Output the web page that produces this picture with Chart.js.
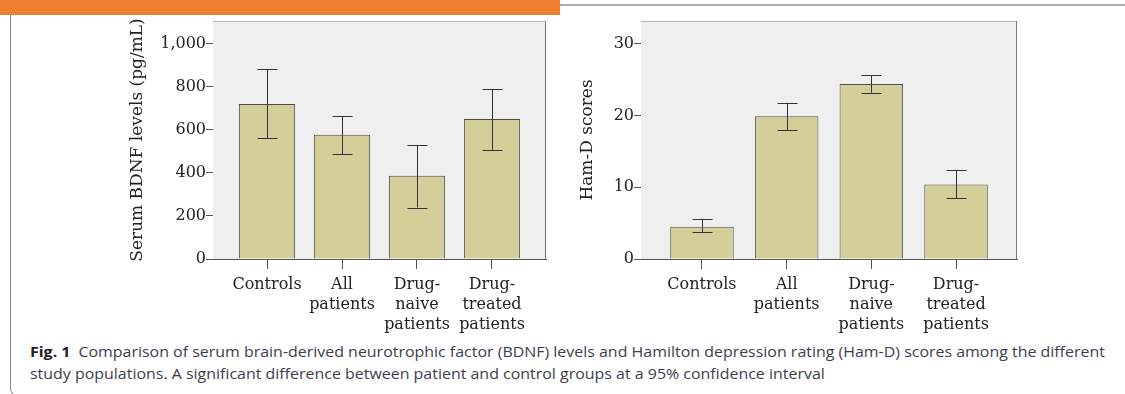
<!DOCTYPE html>
<html><head><meta charset="utf-8">
<script src="https://cdn.jsdelivr.net/npm/chart.js@4.4.0/dist/chart.umd.min.js"></script>
<style>
html,body{margin:0;padding:0;background:#fff;width:1125px;height:394px;overflow:hidden;position:relative;}
#hdr{position:absolute;left:0;top:0;width:560px;height:15px;background:#ee7f31;}
#rule{position:absolute;left:560px;top:4px;width:565px;height:2px;background:#ababab;}
#frame{position:absolute;left:10px;top:15px;width:1200px;height:382px;border-left:1px solid #8a8a8a;border-bottom:1px solid #8a8a8a;border-bottom-left-radius:10px;}
canvas{position:absolute;}
#c1{left:110px;top:17px;}
#c2{left:565px;top:17px;}
.cap{position:absolute;left:30px;white-space:nowrap;font-family:'Open Sans',sans-serif;font-size:14px;line-height:20px;color:#3d3d4d;transform-origin:0 0;}
.cap b{color:#1e1e1e;margin-right:7px;}
</style></head><body>
<div id="hdr"></div><div id="rule"></div><div id="frame"></div>
<canvas id="c1" width="440" height="322"></canvas>
<canvas id="c2" width="456" height="322"></canvas>
<div class="cap" id="l1" style="top:342px"><b>Fig. 1</b>Comparison of serum brain-derived neurotrophic factor (BDNF) levels and Hamilton depression rating (Ham-D) scores among the different</div>
<div class="cap" id="l2" style="top:364px">study populations. A significant difference between patient and control groups at a 95% confidence interval</div>
<script>
// ---- data ----
const categories = [['Controls'], ['All', 'patients'], ['Drug-', 'naive', 'patients'], ['Drug-', 'treated', 'patients']];
const categoryPositions = [0, 1, 2, 3];

const bdnfMeans = [720, 577, 386, 650];
const bdnfLow   = [561, 487, 239, 507];
const bdnfHigh  = [882, 664, 530, 789];
const bdnfTicks = [0, 200, 400, 600, 800, 1000];

const hamMeans = [4.5, 19.9, 24.4, 10.4];
const hamLow   = [3.7, 18.0, 23.2, 8.5];
const hamHigh  = [5.55, 21.8, 25.6, 12.4];
const hamTicks = [0, 10, 20, 30];

const bdnfTitle = 'Serum BDNF levels (pg/mL)';
const hamTitle = 'Ham-D scores';

// ---- drawing ----
const serif = 'DejaVu Serif';
const axisColor = '#555555';

const plotBox = {
  id: 'plotBox',
  beforeDatasetsDraw(chart) {
    const a = chart.chartArea, ctx = chart.ctx;
    ctx.save();
    ctx.fillStyle = '#efefef';
    ctx.fillRect(a.left, a.top, a.right - a.left, a.bottom - a.top);
    ctx.restore();
  },
  afterDraw(chart) {
    const a = chart.chartArea, ctx = chart.ctx;
    ctx.save();
    ctx.lineWidth = 1;
    ctx.strokeStyle = '#b4b4b4';
    ctx.beginPath(); ctx.moveTo(a.left, a.top + 0.5); ctx.lineTo(a.right, a.top + 0.5); ctx.stroke();
    ctx.strokeStyle = '#7a7a7a';
    ctx.beginPath(); ctx.moveTo(a.right - 0.5, a.top); ctx.lineTo(a.right - 0.5, a.bottom); ctx.stroke();
    ctx.restore();
  }
};

const errorBars = {
  id: 'errorBars',
  afterDatasetsDraw(chart, args, opts) {
    const ctx = chart.ctx, xs = chart.scales.x, ys = chart.scales.y;
    ctx.save();
    ctx.strokeStyle = '#333333';
    ctx.lineWidth = 1;
    opts.low.forEach((lo, i) => {
      const x = Math.round(xs.getPixelForValue(categoryPositions[i])) + 0.5;
      const y1 = ys.getPixelForValue(lo), y2 = ys.getPixelForValue(opts.high[i]);
      ctx.beginPath();
      ctx.moveTo(x, y1); ctx.lineTo(x, y2);
      ctx.moveTo(x - 10, Math.round(y1) + 0.5); ctx.lineTo(x + 10, Math.round(y1) + 0.5);
      ctx.moveTo(x - 10, Math.round(y2) + 0.5); ctx.lineTo(x + 10, Math.round(y2) + 0.5);
      ctx.stroke();
    });
    ctx.restore();
  }
};

function makeChart(id, means, low, high, yMax, yTicks, title, yWidth, padLeft) {
  return new Chart(document.getElementById(id), {
    type: 'bar',
    data: {
      datasets: [{
        data: means.map((v, i) => ({ x: categoryPositions[i], y: v })),
        backgroundColor: '#d4cf98',
        borderColor: '#4d4d4d',
        borderWidth: 1,
        barPercentage: 0.75,
        categoryPercentage: 1
      }]
    },
    options: {
      responsive: false,
      animation: false,
      devicePixelRatio: 1,
      layout: { padding: { left: padLeft, right: 4, top: 4, bottom: 0 } },
      plugins: { legend: { display: false }, tooltip: { enabled: false }, errorBars: { low: low, high: high } },
      scales: {
        x: {
          type: 'linear',
          offset: false,
          min: -0.72, max: 3.72,
          afterBuildTicks: s => { s.ticks = categoryPositions.map(v => ({ value: v })); },
          afterFit: s => { s.height = 80; s.paddingLeft = 0; s.paddingRight = 0; },
          grid: { offset: false, drawOnChartArea: false, drawTicks: true, tickLength: 10, color: axisColor },
          border: { color: axisColor, width: 1 },
          ticks: {
            autoSkip: false, maxRotation: 0, minRotation: 0, padding: 6,
            color: '#222222',
            font: { family: serif, size: 16, lineHeight: 1.25 },
            callback: v => categories[categoryPositions.indexOf(v)]
          }
        },
        y: {
          min: 0, max: yMax,
          afterBuildTicks: s => { s.ticks = yTicks.map(v => ({ value: v })); },
          afterFit: s => { s.width = yWidth; s.paddingTop = 0; s.paddingBottom = 0; },
          grid: { drawOnChartArea: false, drawTicks: true, tickLength: 7, color: axisColor },
          border: { color: axisColor, width: 1 },
          ticks: {
            padding: 0, color: '#222222',
            font: { family: serif, size: 16 },
            callback: v => v.toLocaleString('en-US')
          },
          title: {
            display: true, text: title, color: '#222222',
            padding: { top: 0, bottom: 0 },
            font: { family: serif, size: 17, lineHeight: 1.2 }
          }
        }
      }
    },
    plugins: [plotBox, errorBars]
  });
}

makeChart('c1', bdnfMeans, bdnfLow, bdnfHigh, 1105, bdnfTicks, bdnfTitle, 86, 17);
makeChart('c2', hamMeans, hamLow, hamHigh, 33.2, hamTicks, hamTitle, 64, 12);

// fit caption width
(function () {
  const l1 = document.getElementById('l1'), l2 = document.getElementById('l2');
  const w = l1.getBoundingClientRect().width;
  const s = 1075 / w;
  l1.style.transform = 'scaleX(' + s + ')';
  l2.style.transform = 'scaleX(' + s + ')';
})();
</script>
</body></html>
